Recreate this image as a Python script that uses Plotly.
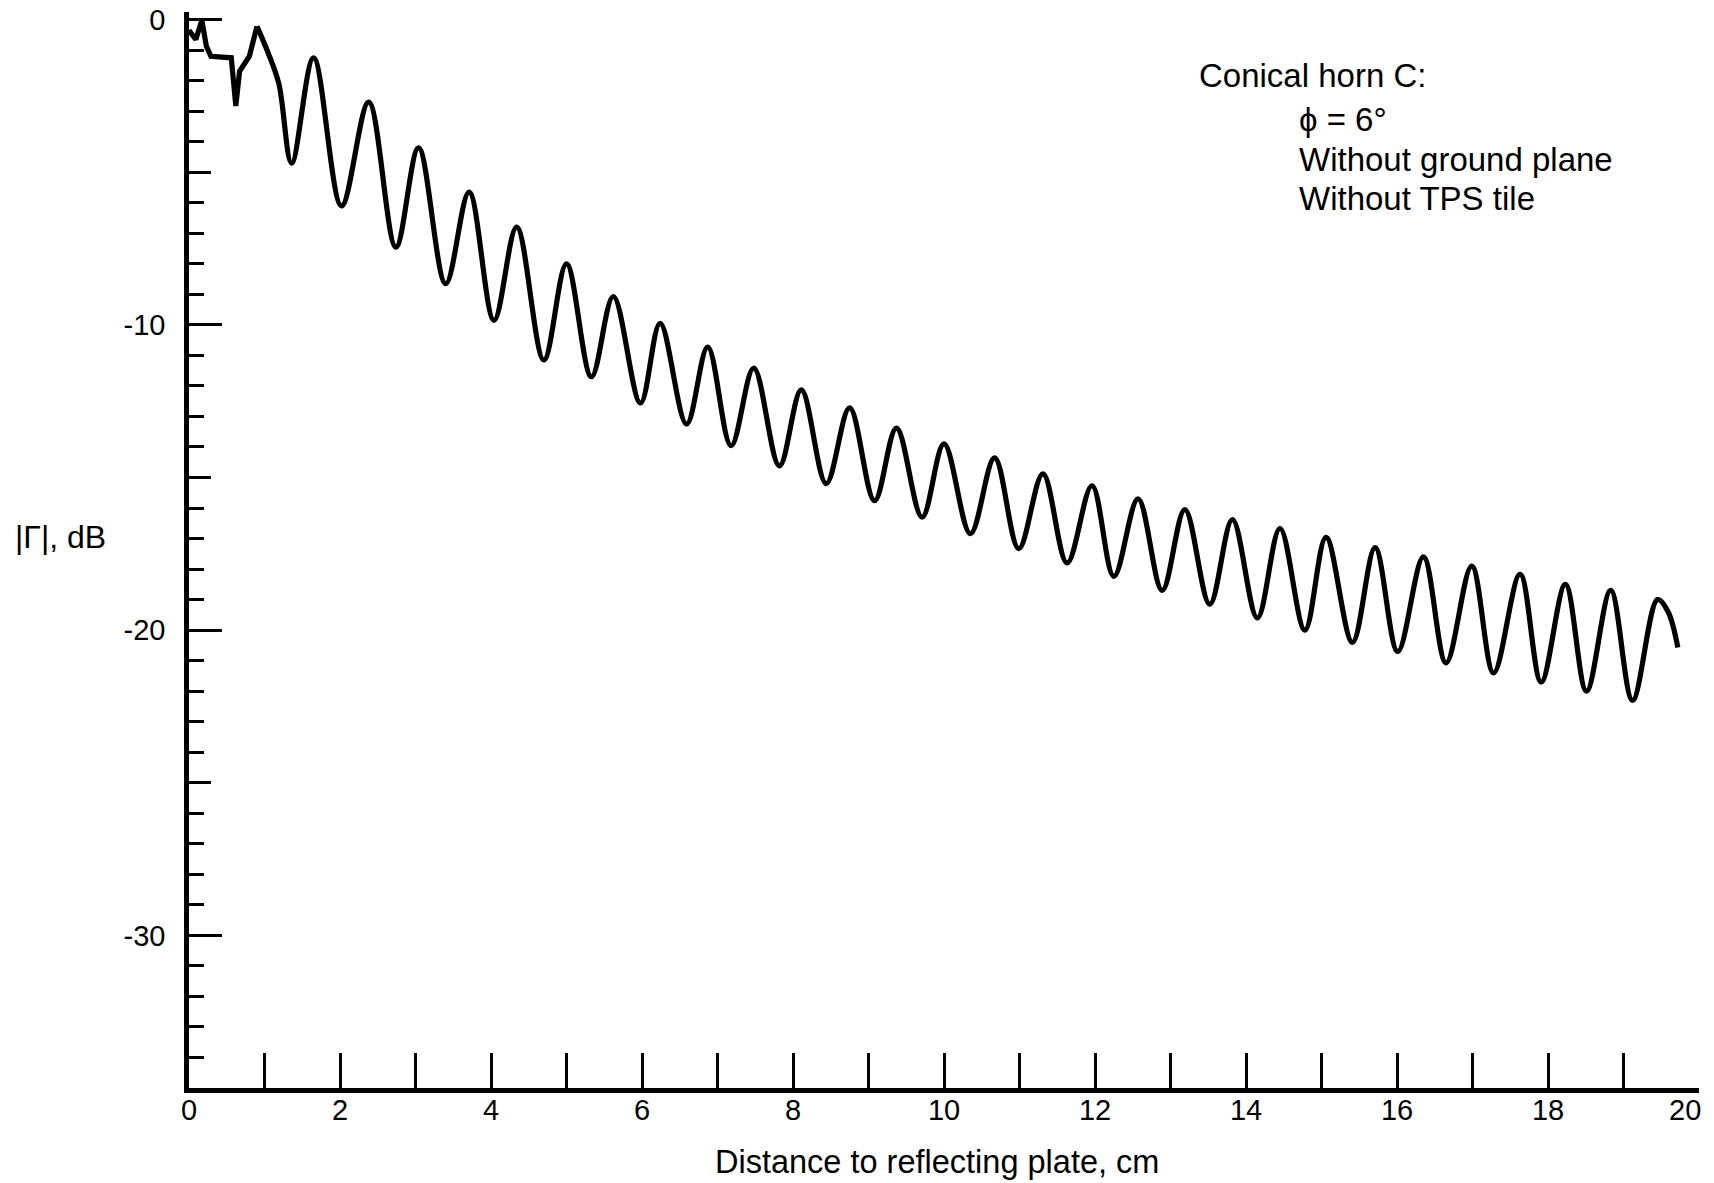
import plotly.graph_objects as go

# ---- data ----
# initial irregular portion (drawn with straight segments)
x_start = [0.0, 0.09, 0.17, 0.23, 0.29, 0.56, 0.62, 0.67, 0.80, 0.90]
y_start = [-0.35, -0.65, -0.02, -0.87, -1.2, -1.25, -2.83, -1.69, -1.2, -0.22]

# oscillating portion (peaks / troughs, smooth curve)
x_main = [0.90, 1.05, 1.19, 1.36, 1.65, 2.02, 2.38, 2.74, 3.04, 3.40, 3.71, 4.04,
          4.34, 4.70, 5.00, 5.33, 5.62, 5.98, 6.24, 6.59, 6.87, 7.18, 7.48, 7.82,
          8.11, 8.44, 8.75, 9.08, 9.37, 9.71, 10.0, 10.35, 10.67, 10.99, 11.31,
          11.63, 11.96, 12.25, 12.57, 12.89, 13.19, 13.52, 13.82, 14.15, 14.45,
          14.78, 15.06, 15.41, 15.71, 16.01, 16.35, 16.65, 16.99, 17.28, 17.63,
          17.91, 18.23, 18.51, 18.83, 19.12, 19.45, 19.59, 19.72]
y_main = [-0.22, -1.1, -2.1, -4.7, -1.25, -6.1, -2.7, -7.45, -4.2, -8.65, -5.65, -9.85,
          -6.8, -11.15, -8.0, -11.7, -9.07, -12.56, -9.95, -13.25, -10.73, -13.96, -11.42, -14.62,
          -12.13, -15.2, -12.72, -15.76, -13.38, -16.3, -13.9, -16.84, -14.36, -17.33, -14.88,
          -17.8, -15.27, -18.24, -15.7, -18.7, -16.05, -19.15, -16.38, -19.6, -16.67,
          -20.0, -16.96, -20.4, -17.3, -20.7, -17.6, -21.07, -17.9, -21.4, -18.17,
          -21.7, -18.5, -22.0, -18.7, -22.3, -19.0, -19.4, -20.57]

x_tickvals = list(range(0, 21))
# the last label ("20") is placed flush-left of the axis end, as in the reference
x_ticktext = [str(v) if (v % 2 == 0 and v < 20) else "" for v in x_tickvals]
x_last_label = "20"
x_last_value = 20
y_major = [0, -10, -20, -30]
y_major_text = ["0", "-10", "-20", "-30"]
y_medium = [-5, -15, -25]

x_title = "Distance to reflecting plate, cm"
y_title = "|Γ|, dB"
legend_lines = ["Conical horn C:", "ϕ = 6°", "Without ground plane", "Without TPS tile"]

FONT = "Liberation Sans, Arial, Helvetica, sans-serif"

fig = go.Figure()
fig.add_trace(go.Scatter(x=x_start, y=y_start, mode="lines",
                         line=dict(color="black", width=5.2, shape="linear"),
                         showlegend=False, hoverinfo="skip"))
fig.add_trace(go.Scatter(x=x_main, y=y_main, mode="lines",
                         line=dict(color="black", width=5.2, shape="spline", smoothing=1.0),
                         showlegend=False, hoverinfo="skip"))
# empty trace to activate the overlay axis for medium ticks
fig.add_trace(go.Scatter(x=[None], y=[None], yaxis="y2", mode="lines",
                         showlegend=False, hoverinfo="skip"))

fig.update_layout(
    width=1714, height=1183,
    margin=dict(l=189, r=15, t=12, b=95, autoexpand=False),
    paper_bgcolor="white", plot_bgcolor="white",
    font=dict(family=FONT, color="black", size=29),
    xaxis=dict(range=[0, 20], showgrid=False, zeroline=False, automargin=False,
               showline=True, linecolor="black", linewidth=4.5,
               ticks="inside", ticklen=35, tickwidth=2.5, tickcolor="black",
               tickvals=x_tickvals, ticktext=x_ticktext,
               tickfont=dict(size=29, family=FONT), ticklabelstandoff=-8),
    yaxis=dict(range=[-35, 0.25], showgrid=False, zeroline=False, automargin=False,
               showline=True, linecolor="black", linewidth=4.5,
               ticks="inside", ticklen=33, tickwidth=3, tickcolor="black",
               tickvals=y_major, ticktext=y_major_text,
               tickfont=dict(size=29, family=FONT), ticklabelstandoff=13,
               minor=dict(ticks="inside", ticklen=15, tickwidth=3,
                          tickcolor="black", dtick=1, tick0=0, showgrid=False)),
    yaxis2=dict(range=[-35, 0.25], overlaying="y", side="left", anchor="x",
                automargin=False,
                showgrid=False, zeroline=False, showline=False,
                ticks="inside", ticklen=22, tickwidth=3, tickcolor="black",
                tickvals=y_medium, showticklabels=False),
)

# last x tick label
fig.add_annotation(xref="x", yref="paper", x=x_last_value, y=-0.020,
                   xanchor="right", yanchor="middle", xshift=4, showarrow=False,
                   text=x_last_label, font=dict(family=FONT, size=29, color="black"))

annos = [
    dict(text=x_title, x=0.4954, y=-0.0688, xanchor="center", yanchor="middle", size=32.5),
    dict(text=y_title, x=-0.1166, y=0.5120, xanchor="left", yanchor="middle", size=32),
    dict(text=legend_lines[0], x=0.6675, y=0.941, xanchor="left", yanchor="middle", size=33),
    dict(text=legend_lines[1], x=0.7338, y=0.9005, xanchor="left", yanchor="middle", size=33),
    dict(text=legend_lines[2], x=0.7338, y=0.8625, xanchor="left", yanchor="middle", size=33),
    dict(text=legend_lines[3], x=0.7338, y=0.827, xanchor="left", yanchor="middle", size=33),
]
for a in annos:
    size = a.pop("size")
    fig.add_annotation(xref="paper", yref="paper", showarrow=False,
                       font=dict(family=FONT, size=size, color="black"), **a)

fig.write_html("out.html")
